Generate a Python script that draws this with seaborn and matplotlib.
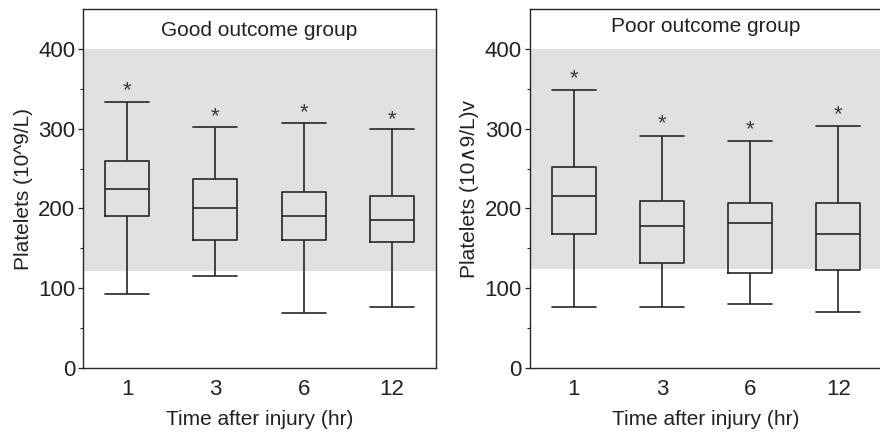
import numpy as np
import pandas as pd
import matplotlib
matplotlib.use("Agg")
import matplotlib.pyplot as plt
import seaborn as sns

# ---- data ----
times = ["1", "3", "6", "12"]

good_low = [93, 115, 69, 76]
good_q1 = [191, 161, 160, 158]
good_med = [224, 200, 191, 186]
good_q3 = [260, 237, 220, 216]
good_high = [333, 302, 307, 299]
good_star = [347, 315, 320, 311]

poor_low = [76, 76, 80, 70]
poor_q1 = [168, 131, 119, 123]
poor_med = [215, 178, 182, 168]
poor_q3 = [252, 209, 207, 207]
poor_high = [349, 291, 284, 303]
poor_star = [363, 306, 299, 317]

normal_range = [121, 400]
normal_range_poor = [124, 400]

titles = ["Good outcome group", "Poor outcome group"]
ylabels = ["Platelets (10^9/L)", "Platelets (10\u22279/L)v"]
xlabel = "Time after injury (hr)"


def long_df(low, q1, med, q3, high):
    rows = []
    for t, a, b, c, d, e in zip(times, low, q1, med, q3, high):
        for v in (a, b, c, d, e):
            rows.append({"time": t, "value": v})
    return pd.DataFrame(rows)


sns.set_style("white")
plt.rcParams["font.family"] = ["Liberation Sans", "DejaVu Sans"]

fig = plt.figure(figsize=(8.8, 4.34), dpi=100)
ax1 = fig.add_axes([83 / 880, 66 / 434, 353 / 880, 359 / 434])
ax2 = fig.add_axes([529.5 / 880, 66 / 434, 353 / 880, 359 / 434])

panels = [
    (ax1, long_df(good_low, good_q1, good_med, good_q3, good_high), good_star, normal_range),
    (ax2, long_df(poor_low, poor_q1, poor_med, poor_q3, poor_high), poor_star, normal_range_poor),
]

ink = "#262626"
for i, (ax, df, stars, band) in enumerate(panels):
    ax.axhspan(band[0], band[1], color="#e0e1e3", zorder=0, lw=0)
    sns.boxplot(data=df, x="time", y="value", order=times, ax=ax,
                whis=(0, 100), width=0.5, fill=False, color=ink,
                linewidth=1.2, capwidths=0.5, showfliers=False)
    for j, s in enumerate(stars):
        ax.text(j, s, "*", ha="center", va="center", fontsize=16, color="#3a3a3a")
    ax.set_xlim(-0.5, 3.5)
    ax.set_ylim(0, 450)
    ax.set_yticks([0, 100, 200, 300, 400])
    ax.set_yticks([50, 150, 250, 350], minor=True)
    ax.tick_params(axis="y", which="major", length=3.5, width=0.9, color=ink,
                   labelsize=16, labelcolor="#222222", pad=2, left=True)
    ax.tick_params(axis="y", which="minor", length=2, width=0.8, color=ink, left=True)
    ax.tick_params(axis="x", length=0, labelsize=16, labelcolor="#222222", pad=8)
    ax.set_xlabel(xlabel, fontsize=15, color="#222222", labelpad=7)
    ax.set_ylabel(ylabels[i], fontsize=15, color="#222222", labelpad=4)
    ax.text(0.5, 0.94 if i == 0 else 0.95, titles[i], transform=ax.transAxes,
            ha="center", va="center", fontsize=15, color="#222222")
    for sp in ax.spines.values():
        sp.set_visible(True)
        sp.set_color(ink)
        sp.set_linewidth(1.0)
    ax.set_facecolor("white")

fig.savefig("out.png", dpi=100)
